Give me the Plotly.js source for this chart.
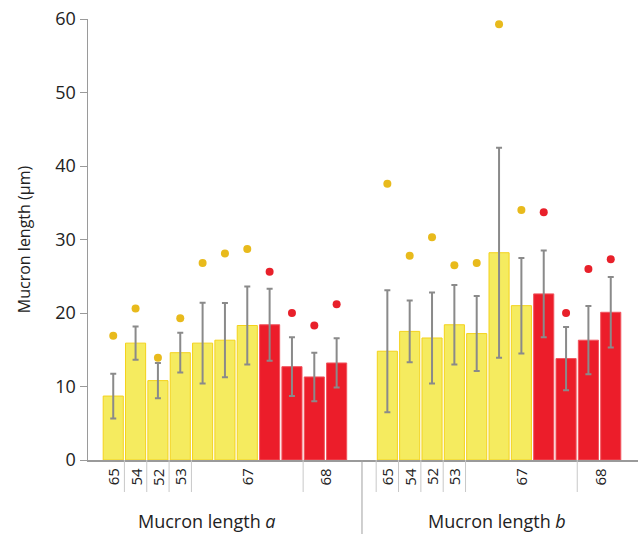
<!DOCTYPE html>
<html>
<head>
<meta charset="utf-8">
<script src="https://cdn.plot.ly/plotly-3.0.1.min.js"></script>
<style>html,body{margin:0;padding:0;background:#fff;}#chart{width:640px;height:534px;}</style>
</head>
<body>
<div id="chart"></div>
<script>
// ---- data ----
const groupNames = ['Mucron length <i>a</i>', 'Mucron length <i>b</i>'];
const catLabels = ['65', '54', '52', '53', '67', '68'];
const catFirstBar = [0, 1, 2, 3, 4, 9];
const catLastBar = [0, 1, 2, 3, 8, 10];
const barIsRed = [false, false, false, false, false, false, false, true, true, true, true];

const meanA = [8.7, 15.9, 10.8, 14.6, 15.9, 16.3, 18.3, 18.4, 12.7, 11.3, 13.2];
const sdA   = [3.05, 2.25, 2.4, 2.7, 5.5, 5.05, 5.3, 4.9, 4.0, 3.3, 3.35];
const maxA  = [16.9, 20.6, 13.9, 19.3, 26.8, 28.1, 28.7, 25.6, 20.0, 18.3, 21.2];

const meanB = [14.8, 17.5, 16.6, 18.4, 17.2, 28.2, 21.0, 22.6, 13.8, 16.3, 20.1];
const sdB   = [8.3, 4.2, 6.2, 5.4, 5.1, 14.3, 6.5, 5.9, 4.3, 4.65, 4.8];
const maxB  = [37.6, 27.8, 30.3, 26.5, 26.8, 59.3, 34.0, 33.7, 20.0, 26.0, 27.3];

// ---- layout helpers ----
const nBars = meanA.length;
const groupOffset = [0, nBars + 1.27];
const groups = [
  {mean: meanA, sd: sdA, max: maxA},
  {mean: meanB, sd: sdB, max: maxB}
];

const YEL = '#F5EB5F', YEL_LINE = '#F3D21C', YEL_DOT = '#E8BA1C';
const RED = '#EC1D2A', RED_LINE = '#F0555E', RED_DOT = '#E8202A';
const FONT = 'Open Sans, sans-serif';

const bx = {y: [], r: []}, by = {y: [], r: []}, be = {y: [], r: []};
const dx = {y: [], r: []}, dy = {y: [], r: []};
groups.forEach((g, gi) => {
  g.mean.forEach((m, i) => {
    const k = barIsRed[i] ? 'r' : 'y';
    const x = groupOffset[gi] + i;
    bx[k].push(x); by[k].push(m); be[k].push(g.sd[i]);
    dx[k].push(x); dy[k].push(g.max[i]);
  });
});

const errStyle = {type: 'data', visible: true, color: '#8a8a8a', thickness: 2, width: 3};
const traces = [
  {type: 'bar', x: bx.y, y: by.y, width: 0.9, error_y: Object.assign({array: be.y}, errStyle),
   marker: {color: YEL, line: {color: YEL_LINE, width: 1}}, hoverinfo: 'skip'},
  {type: 'bar', x: bx.r, y: by.r, width: 0.9, error_y: Object.assign({array: be.r}, errStyle),
   marker: {color: RED, line: {color: RED_LINE, width: 1}}, hoverinfo: 'skip'},
  {type: 'scatter', mode: 'markers', x: dx.y, y: dy.y, marker: {color: YEL_DOT, size: 8}, hoverinfo: 'skip'},
  {type: 'scatter', mode: 'markers', x: dx.r, y: dy.r, marker: {color: RED_DOT, size: 8}, hoverinfo: 'skip'}
];

const plotH = 534 - 19 - 74;
const px2paper = p => -p / plotH;  // pixels below axis -> paper y

const shapes = [], annotations = [];
groups.forEach((g, gi) => {
  const off = groupOffset[gi];
  catLabels.forEach((lab, ci) => {
    const cx = off + (catFirstBar[ci] + catLastBar[ci]) / 2;
    annotations.push({x: cx, y: px2paper(17), xref: 'x', yref: 'paper', text: lab, showarrow: false,
      textangle: -90, font: {family: FONT, size: 15, color: '#222'},
      xanchor: 'center', yanchor: 'middle'});
    if (ci > 0 || gi > 0) {
      const sx = off + catFirstBar[ci] - 0.5;
      shapes.push({type: 'line', xref: 'x', yref: 'paper', x0: sx, x1: sx, y0: 0, y1: px2paper(32),
        line: {color: '#c8c8c8', width: 1}});
    }
  });
  annotations.push({x: off + 4.2 + gi * 0.7, y: px2paper(61), xref: 'x', yref: 'paper', text: groupNames[gi],
    showarrow: false, font: {family: FONT, size: 18, color: '#222'},
    xanchor: 'center', yanchor: 'middle'});
});
const divX = (groupOffset[0] + nBars - 1 + groupOffset[1]) / 2;
shapes.push({type: 'line', xref: 'x', yref: 'paper', x0: divX, x1: divX, y0: 0, y1: px2paper(80),
  line: {color: '#a0a0a0', width: 1}});

const layout = {
  width: 640, height: 534,
  margin: {l: 88, r: 2, t: 19, b: 74},
  paper_bgcolor: '#fff', plot_bgcolor: '#fff',
  showlegend: false, barmode: 'overlay',
  xaxis: {range: [-1.13, 23.49], showgrid: false, zeroline: false, showticklabels: false, ticks: '',
    showline: true, linecolor: '#9a9a9a', linewidth: 1.5, fixedrange: true},
  yaxis: {range: [0, 60], dtick: 10, showgrid: false, zeroline: false,
    showline: true, linecolor: '#9a9a9a', linewidth: 1.5, ticks: 'outside', ticklen: 7, tickcolor: '#9a9a9a',
    tickfont: {family: FONT, size: 18, color: '#222'},
    title: {text: 'Mucron length (µm)', font: {family: FONT, size: 16, color: '#222'}, standoff: 20}},
  shapes: shapes, annotations: annotations
};

Plotly.newPlot('chart', traces, layout, {displayModeBar: false, staticPlot: true});
</script>
</body>
</html>
